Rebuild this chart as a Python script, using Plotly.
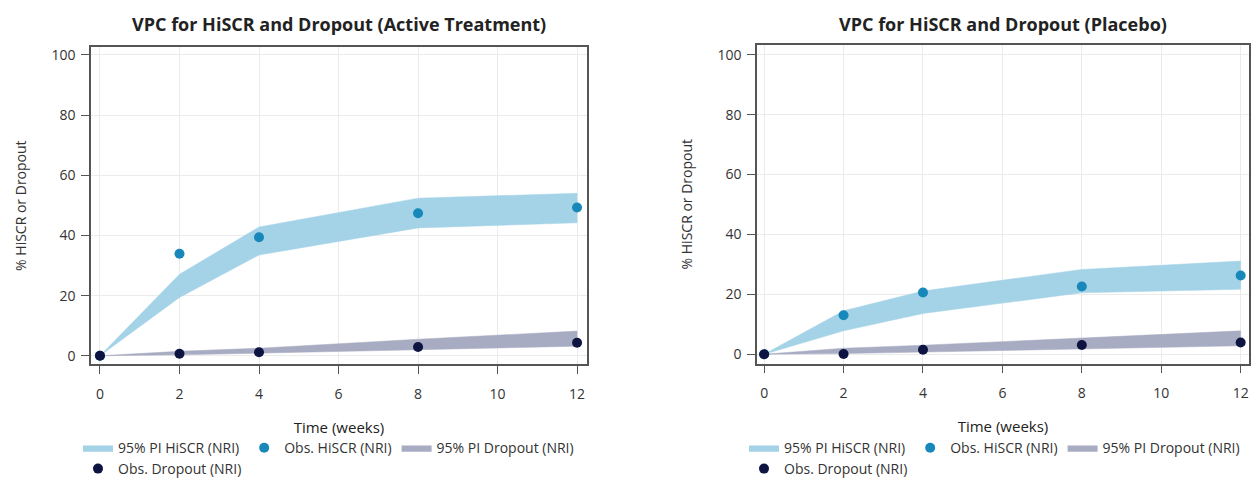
import plotly.graph_objects as go

# Visit times (weeks)
weeks = [0, 2, 4, 8, 12]

# Active treatment
act_hiscr_lo = [0, 19.4, 33.5, 42.5, 44.2]
act_hiscr_hi = [0, 27.1, 42.8, 52.4, 54.0]
act_hiscr_obs = [0, 33.9, 39.4, 47.4, 49.3]
act_drop_lo = [0, 0.3, 0.7, 2.0, 3.2]
act_drop_hi = [0, 1.5, 2.5, 5.5, 8.2]
act_drop_obs = [0, 0.7, 1.2, 2.9, 4.3]

# Placebo
pbo_hiscr_lo = [0, 7.8, 13.6, 20.5, 21.7]
pbo_hiscr_hi = [0, 14.5, 21.1, 28.3, 31.1]
pbo_hiscr_obs = [0, 13.0, 20.6, 22.6, 26.3]
pbo_drop_lo = [0, 0.2, 0.8, 1.8, 2.8]
pbo_drop_hi = [0, 2.0, 3.0, 5.3, 7.8]
pbo_drop_obs = [0, 0.1, 1.5, 3.1, 3.9]

x_ticks = [0, 2, 4, 6, 8, 10, 12]
y_ticks = [0, 20, 40, 60, 80, 100]

titles = ["VPC for HiSCR and Dropout (Active Treatment)",
          "VPC for HiSCR and Dropout (Placebo)"]

C_BAND_H = "#a4d3e7"
C_OBS_H = "#1888ba"
C_BAND_D = "#a8acc2"
C_OBS_D = "#0d1442"
FONT = "Open Sans"

W, H = 1254, 485


def band(x, lo, hi):
    # closed polygon: upper edge forward, lower edge back
    return list(x) + list(x)[::-1], list(hi) + list(lo)[::-1]


fig = go.Figure()

panels = [
    (act_hiscr_lo, act_hiscr_hi, act_hiscr_obs, act_drop_lo, act_drop_hi, act_drop_obs),
    (pbo_hiscr_lo, pbo_hiscr_hi, pbo_hiscr_obs, pbo_drop_lo, pbo_drop_hi, pbo_drop_obs),
]

for i, (hl, hh, ho, dl, dh, do) in enumerate(panels):
    xa = "x" if i == 0 else "x2"
    ya = "y" if i == 0 else "y2"
    leg_a = "legend" if i == 0 else "legend3"
    leg_b = "legend2" if i == 0 else "legend4"
    bx, by = band(weeks, hl, hh)
    fig.add_trace(go.Scatter(x=bx, y=by, fill="toself", fillcolor=C_BAND_H,
                             line=dict(color=C_BAND_H, width=0.5), mode="lines",
                             name="95% PI HiSCR (NRI)", xaxis=xa, yaxis=ya,
                             legend=leg_a, legendrank=1, hoverinfo="skip"))
    bx, by = band(weeks, dl, dh)
    fig.add_trace(go.Scatter(x=bx, y=by, fill="toself", fillcolor=C_BAND_D,
                             line=dict(color=C_BAND_D, width=0.5), mode="lines",
                             name="95% PI Dropout (NRI)", xaxis=xa, yaxis=ya,
                             legend=leg_a, legendrank=3, hoverinfo="skip"))
    fig.add_trace(go.Scatter(x=weeks, y=ho, mode="markers",
                             marker=dict(color=C_OBS_H, size=10),
                             name="Obs. HiSCR (NRI)", xaxis=xa, yaxis=ya,
                             legend=leg_a, legendrank=2))
    fig.add_trace(go.Scatter(x=weeks, y=do, mode="markers",
                             marker=dict(color=C_OBS_D, size=10),
                             name="Obs. Dropout (NRI)", xaxis=xa, yaxis=ya,
                             legend=leg_b, legendrank=4))

axis_common = dict(
    showline=True, linecolor="#555555", linewidth=1.5, mirror=True,
    showgrid=True, gridcolor="#ebebeb", gridwidth=1,
    ticks="outside", ticklen=8, tickcolor="#555555", tickwidth=1.2,
    tickfont=dict(family=FONT, size=14, color="#333333"),
    zeroline=False,
)

px_left = [(91, 587), (757, 1249)]
px_top = [(45, 364), (43, 363)]
x_ranges = [[-0.226, 12.25], [-0.18, 12.21]]
y_ranges = [[-2.9, 102.7], [-3.1, 103.3]]

for i in range(2):
    sfx = "" if i == 0 else "2"
    l, r = px_left[i]
    t, b = px_top[i]
    fig.update_layout(**{
        "xaxis" + sfx: dict(axis_common, domain=[l / W, r / W], range=x_ranges[i],
                            tickvals=x_ticks, anchor="y" + sfx, ticklabelstandoff=8,
                            title=dict(text="Time (weeks)", standoff=20,
                                       font=dict(family=FONT, size=15, color="#222222"))),
        "yaxis" + sfx: dict(axis_common, domain=[1 - b / H, 1 - t / H], range=y_ranges[i],
                            tickvals=y_ticks, anchor="x" + sfx, ticklabelstandoff=3,
                            title=dict(text="% HiSCR or Dropout", standoff=22,
                                       font=dict(family=FONT, size=14, color="#333333"))),
    })
    fig.add_annotation(text="<b>" + titles[i] + "</b>", xref="paper", yref="paper",
                       x=(l + r) / 2 / W, y=1 - 22 / H, xanchor="center", yanchor="middle",
                       showarrow=False, font=dict(family=FONT, size=18, color="#222222"))

leg_common = dict(orientation="h", xanchor="left", yanchor="middle",
                  font=dict(family=FONT, size=14, color="#333333"),
                  bgcolor="rgba(0,0,0,0)", itemwidth=30, tracegroupgap=0)

fig.update_layout(
    width=W, height=H, margin=dict(l=0, r=0, t=0, b=0),
    paper_bgcolor="white", plot_bgcolor="white",
    legend=dict(leg_common, x=78 / W, y=1 - 448 / H),
    legend2=dict(leg_common, x=78 / W, y=1 - 469 / H),
    legend3=dict(leg_common, x=744 / W, y=1 - 448 / H),
    legend4=dict(leg_common, x=744 / W, y=1 - 469 / H),
)

fig.write_html("out.html")
